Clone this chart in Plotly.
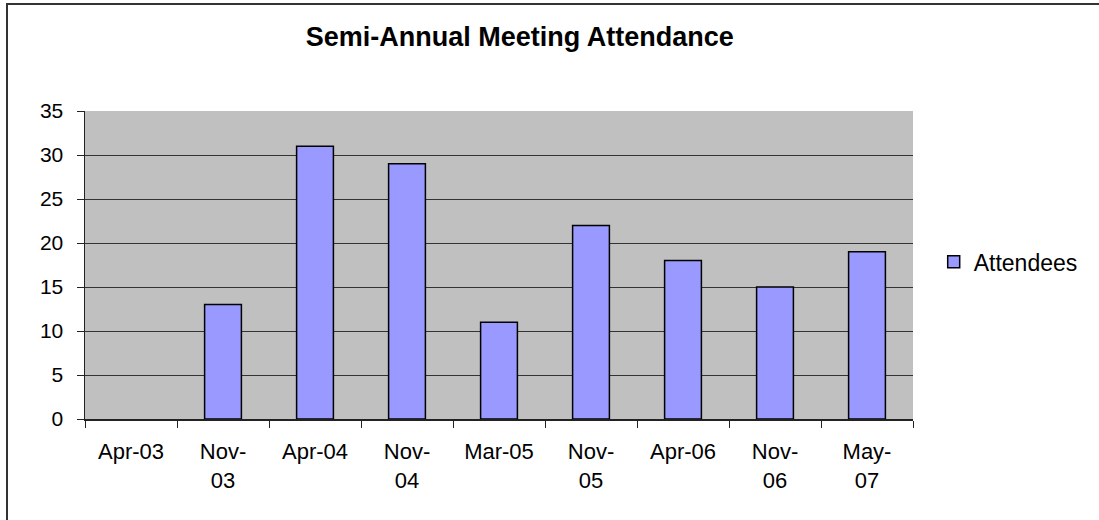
import plotly.graph_objects as go

categories = ["Apr-03", "Nov-<br>03", "Apr-04", "Nov-<br>04", "Mar-05",
              "Nov-<br>05", "Apr-06", "Nov-<br>06", "May-<br>07"]
attendees = [0, 13, 31, 29, 11, 22, 18, 15, 19]
y_ticks = [0, 5, 10, 15, 20, 25, 30, 35]

FONT = "Liberation Sans, Arial, sans-serif"

# zero-height bars are not drawn (no outline) in the reference
bar_values = [v if v > 0 else None for v in attendees]

fig = go.Figure()
fig.add_trace(go.Bar(
    x=categories, y=bar_values, name="Attendees",
    marker=dict(color="#9999FF", line=dict(color="black", width=1.5)),
))

fig.update_layout(
    width=1099, height=520,
    margin=dict(l=85, r=186, t=111, b=101),
    paper_bgcolor="white", plot_bgcolor="#C0C0C0",
    font=dict(family=FONT, size=22, color="black"),
    bargap=0.6,
    showlegend=True,
    title=dict(text="<b>Semi-Annual Meeting Attendance</b>",
               x=0.473, xref="container", xanchor="center",
               y=0.929, yref="container", yanchor="middle",
               font=dict(family=FONT, size=27, color="black")),
    legend=dict(x=1.025, xanchor="left", y=0.51, yanchor="middle",
                font=dict(family=FONT, size=23, color="black"),
                bgcolor="rgba(0,0,0,0)"),
    xaxis=dict(showline=True, linecolor="#222", linewidth=1.5,
               ticks="outside", tickson="boundaries", ticklen=7,
               tickcolor="#222", showgrid=False, tickangle=0,
               ticklabelstandoff=12, fixedrange=True),
    yaxis=dict(range=[0, 35], tickvals=y_ticks, showline=True,
               linecolor="#222", linewidth=1.5, ticks="outside",
               ticklen=7, tickcolor="#222", showgrid=True,
               gridcolor="#333", gridwidth=1, zeroline=False,
               tickfont=dict(size=21), ticklabelstandoff=9,
               fixedrange=True),
    shapes=[dict(type="rect", xref="paper", yref="paper",
                 x0=-0.0942, x1=2, y0=-2, y1=1.347,
                 line=dict(color="#333", width=2), layer="above")],
)

fig.write_html("out.html",
               config={"displayModeBar": False, "staticPlot": True},
               post_script="document.body.style.margin='0';"
                           "document.body.style.overflow='hidden';")
